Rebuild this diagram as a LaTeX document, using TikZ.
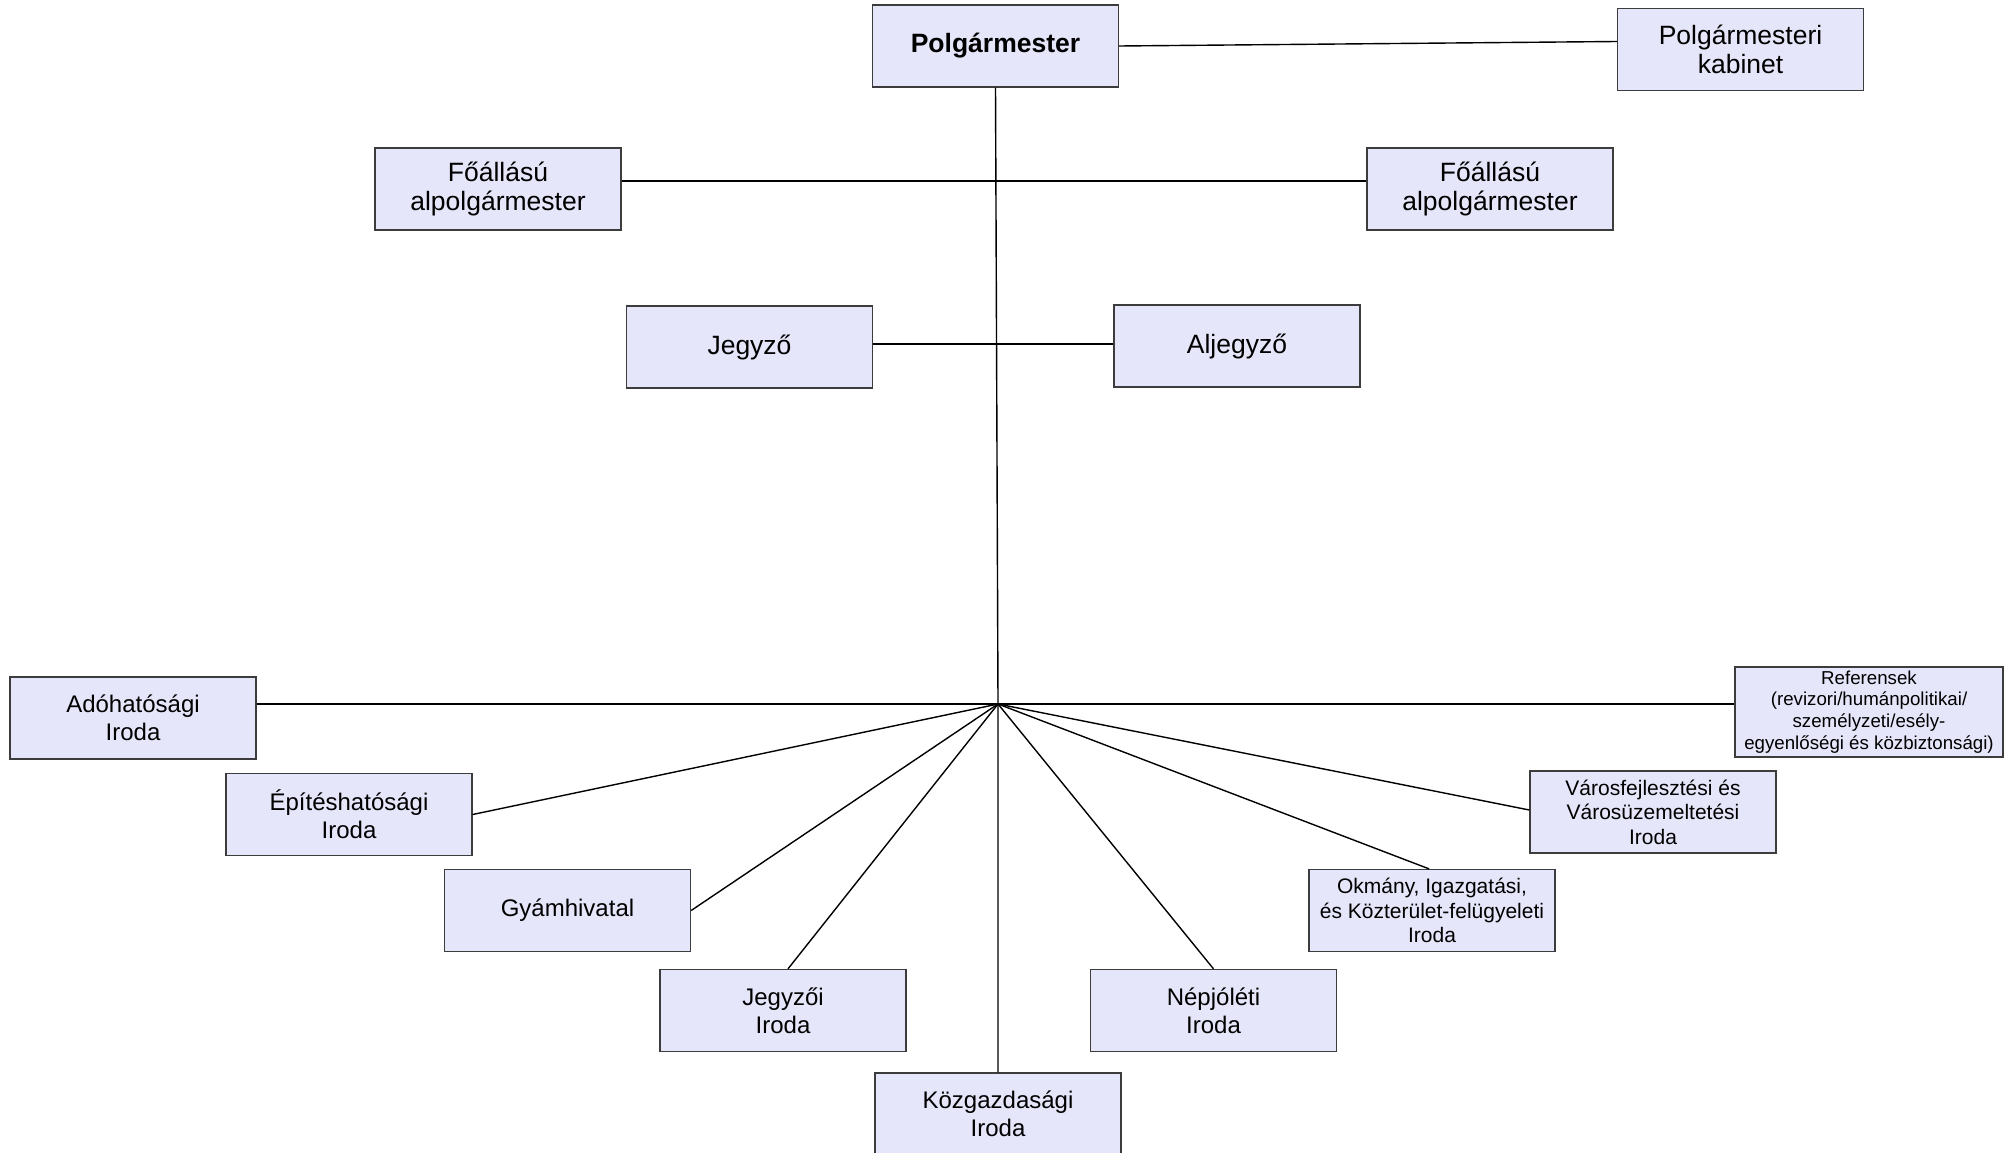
\documentclass[tikz,border=0pt]{standalone}
\usepackage{fontspec}
\setmainfont{Liberation Sans}
\usepackage{tikz}
\usetikzlibrary{positioning}
\definecolor{boxfill}{RGB}{230,230,250}
\definecolor{boxline}{RGB}{60,60,60}
\tikzstyle{office}=[rectangle,draw=boxline,fill=boxfill,line width=1.3pt,inner sep=0mm,
  minimum width=246pt,minimum height=82pt,align=center,font=\fontsize{24}{28}\selectfont]
\tikzstyle{head}=[office,font=\fontsize{26.5}{29.6}\selectfont]
\tikzstyle{small}=[office,font=\fontsize{21}{24.4}\selectfont]
\tikzstyle{tiny}=[office,minimum width=268pt,minimum height=90pt,font=\fontsize{18.7}{21.8}\selectfont]
\tikzstyle{link}=[black,line width=1.4pt]

\begin{document}
\begin{tikzpicture}[x=1pt,y=-1pt]
      \fill[white] (0,0) rectangle (2015,1153);
      \useasboundingbox (0,0) rectangle (2015,1153);
      % top of the hierarchy
      \node[head] at (995.5,46) (polg) {\textbf{Polgármester}};
      \node[head] at (1740.5,49.5) (kabinet) {Polgármesteri\\kabinet};
      \node[head] at (498,189) (alpolg1) {Főállású\\alpolgármester};
      \node[head] at (1490,189) (alpolg2) {Főállású\\alpolgármester};
      \node[head] at (749.5,347) (jegyzo) {Jegyző};
      \node[head] at (1237,346) (aljegyzo) {Aljegyző};
      \coordinate (hub) at (998,704);
      % offices
      \node[office] at (133,718) (ado) {Adóhatósági\\Iroda};
      \node[tiny] at (1869,712) (ref) {Referensek\\(revizori/humánpolitikai/\\személyzeti/esély-\\egyenlőségi és közbiztonsági)};
      \node[office] at (349,814.5) (epites) {Építéshatósági\\Iroda};
      \node[small] at (1653,812) (varos) {Városfejlesztési és\\Városüzemeltetési\\Iroda};
      \node[office] at (567.5,910.5) (gyam) {Gyámhivatal};
      \node[small] at (1432,910.5) (okmany) {Okmány, Igazgatási,\\és Közterület-felügyeleti\\Iroda};
      \node[office] at (783,1010.5) (jegyzoi) {Jegyzői\\Iroda};
      \node[office] at (1213.5,1010.5) (nepjol) {Népjóléti\\Iroda};
      \node[office] at (998,1114) (kozgazd) {Közgazdasági\\Iroda};
      % connectors
      \draw[link] (polg.east) -- ([yshift=8pt]kabinet.west);
      \draw[link] (polg.south) -- (hub) -- (kozgazd.north);
      \draw[link] ([yshift=8pt]alpolg1.east) -- ([yshift=8pt]alpolg2.west);
      \draw[link] ([yshift=3pt]jegyzo.east) -- ([yshift=2pt]aljegyzo.west);
      \draw[link] (ado.east |- hub) -- (ref.west |- hub);
      \draw[link] (hub) -- (epites.east);
      \draw[link] (hub) -- (gyam.east);
      \draw[link] (hub) -- ([xshift=5pt]jegyzoi.north);
      \draw[link] (hub) -- (nepjol.north);
      \draw[link] (hub) -- ([xshift=-3pt]okmany.north);
      \draw[link] (hub) -- ([yshift=2pt]varos.west);
    \end{tikzpicture}
\end{document}
